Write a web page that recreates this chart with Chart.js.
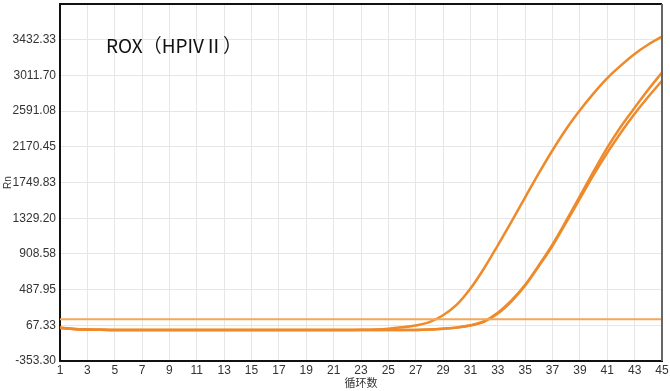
<!DOCTYPE html>
<html lang="zh">
<head>
<meta charset="UTF-8">
<script src="https://cdn.jsdelivr.net/npm/chart.js"></script>
<style>
  body { margin: 0; background: #fff; }
  .wrap { position: relative; width: 670px; height: 391px; }
  #chartTitle {
    position: absolute; left: 106px; top: 31px;
    font-family: "Noto Sans CJK SC", "Noto Sans", sans-serif;
    font-size: 19px; color: #111; white-space: nowrap; line-height: 28px;
  }
</style>
</head>
<body>
<div class="wrap">
  <canvas id="myChart" width="670" height="391"></canvas>
  <div id="chartTitle">ROX（HPIVⅡ）</div>
</div>
<script>
  // 循环数
  const cycles = [1, 2, 3, 4, 5, 6, 7, 8, 9, 10, 11, 12, 13, 14, 15, 16, 17, 18, 19, 20, 21, 22, 23,
    24, 25, 26, 27, 28, 29, 30, 31, 32, 33, 34, 35, 36, 37, 38, 39, 40, 41, 42, 43, 44, 45];
  const xTicks = [1, 3, 5, 7, 9, 11, 13, 15, 17, 19, 21, 23, 25, 27, 29, 31, 33, 35, 37, 39, 41, 43, 45];
  const yTicks = [-353.30, 67.33, 487.95, 908.58, 1329.20, 1749.83, 2170.45, 2591.08, 3011.70, 3432.33];
  const yMax = 3852.96;

  const curveA = [38, 24, 17, 14, 13, 12, 12, 11, 11, 11, 11, 11, 11, 11, 11, 11, 11, 11, 11, 11, 12, 12,
    14, 18, 27, 44, 66, 105, 185, 310, 500, 740, 1010, 1290, 1575, 1860, 2130, 2380, 2600, 2800, 2980,
    3130, 3265, 3375, 3469];
  const curveB = [40, 25, 17, 14, 13, 12, 12, 11, 11, 11, 11, 11, 11, 11, 11, 11, 11, 11, 11, 11, 11, 11,
    11, 11, 11, 12, 13, 18, 28, 42, 68, 115, 215, 360, 545, 775, 1020, 1300, 1590, 1880, 2160,
    2410, 2630, 2845, 3046];
  const curveC = [36, 24, 17, 14, 13, 12, 12, 11, 11, 11, 11, 11, 11, 11, 11, 11, 11, 11, 11, 11, 11, 11,
    11, 11, 11, 12, 13, 17, 27, 40, 65, 110, 205, 350, 535, 765, 1005, 1280, 1560, 1840, 2100,
    2340, 2560, 2760, 2949];
  const threshold = 140;

  const toPoints = arr => arr.map((v, i) => ({ x: cycles[i], y: v }));

  const curveStyle = {
    borderColor: '#ee8a2a',
    borderWidth: 2.5,
    pointRadius: 0,
    fill: false,
    cubicInterpolationMode: 'monotone'
  };

  // 外框（上、右）
  const framePlugin = {
    id: 'frame',
    afterDraw(chart) {
      const { ctx, chartArea: a } = chart;
      ctx.save();
      ctx.lineWidth = 2;
      ctx.strokeStyle = '#111';
      ctx.beginPath();
      ctx.moveTo(a.left, a.top);
      ctx.lineTo(a.right, a.top);
      ctx.stroke();
      ctx.strokeStyle = '#666';
      ctx.beginPath();
      ctx.moveTo(a.right, a.top);
      ctx.lineTo(a.right, a.bottom);
      ctx.stroke();
      ctx.restore();
    }
  };

  const ctx = document.getElementById('myChart').getContext('2d');
  const chart = new Chart(ctx, {
    type: 'line',
    data: {
      datasets: [
        {
          label: 'threshold',
          data: cycles.map(c => ({ x: c, y: threshold })),
          borderColor: '#f2a75a',
          borderWidth: 2,
          pointRadius: 0,
          fill: false
        },
        Object.assign({ label: 'A', data: toPoints(curveA) }, curveStyle),
        Object.assign({ label: 'B', data: toPoints(curveB) }, curveStyle),
        Object.assign({ label: 'C', data: toPoints(curveC) }, curveStyle)
      ]
    },
    options: {
      responsive: false,
      animation: false,
      layout: { padding: { left: 0, right: 8, top: 4, bottom: 0 } },
      plugins: {
        legend: { display: false },
        tooltip: { enabled: false }
      },
      scales: {
        x: {
          type: 'linear',
          min: 1,
          max: 45,
          afterBuildTicks: axis => { axis.ticks = xTicks.map(v => ({ value: v })); },
          afterFit: axis => { axis.height = 30; axis.paddingLeft = 0; axis.paddingRight = 0; },
          ticks: {
            autoSkip: false,
            maxRotation: 0,
            padding: 2,
            color: '#333',
            font: { family: 'Liberation Sans', size: 12 }
          },
          grid: { color: '#e6e6e6', drawTicks: false },
          border: { color: '#111', width: 2 },
          title: {
            display: true,
            text: '循环数',
            color: '#333',
            padding: { top: 0, bottom: 2 },
            font: { family: 'Noto Sans CJK SC', size: 11 }
          }
        },
        y: {
          type: 'linear',
          min: yTicks[0],
          max: yMax,
          afterBuildTicks: axis => { axis.ticks = yTicks.map(v => ({ value: v })); },
          afterFit: axis => { axis.width = 60; axis.paddingTop = 0; axis.paddingBottom = 0; },
          ticks: {
            padding: 4,
            color: '#333',
            font: { family: 'Liberation Sans', size: 12 },
            callback: v => v.toFixed(2)
          },
          grid: { color: '#e6e6e6', drawTicks: false },
          border: { color: '#111', width: 2 },
          title: {
            display: true,
            text: 'Rn',
            color: '#333',
            padding: { top: 2, bottom: 0 },
            font: { family: 'Liberation Sans', size: 10 }
          }
        }
      }
    },
    plugins: [framePlugin]
  });
</script>
</body>
</html>
